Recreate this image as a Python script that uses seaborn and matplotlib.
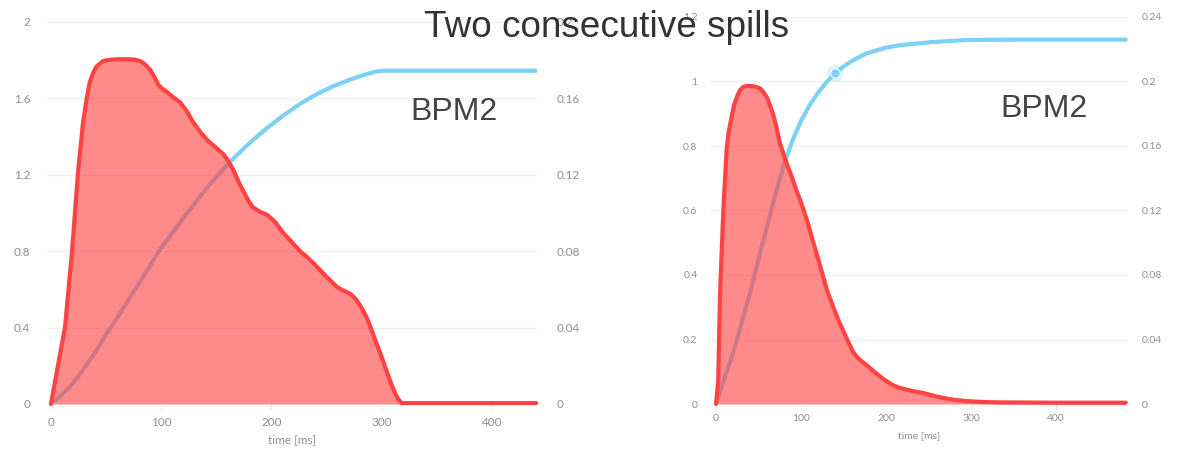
import matplotlib
matplotlib.use("Agg")
import matplotlib.pyplot as plt
import seaborn as sns
import pandas as pd
from matplotlib.ticker import FixedLocator, FuncFormatter

# ---- first spill: intensity (left axis) and integrated charge (right axis)
spill1_t = [0, 6, 12.7, 19, 24.5, 29, 32.7, 35, 38, 41, 44, 47, 51, 55, 60, 70,
            76, 81, 85, 90, 94, 97, 100, 105, 110, 117, 123, 129, 136, 142, 149,
            156, 160, 165, 170, 174, 179, 183, 190, 196, 203, 210, 218, 226, 234,
            241, 250, 259, 264, 268, 272, 277, 282, 286, 290, 295, 300, 304, 308,
            312, 315, 318, 330, 440]
spill1_rate = [0, 0.19, 0.40, 0.79, 1.21, 1.47, 1.61, 1.68, 1.73, 1.765, 1.78,
               1.795, 1.80, 1.803, 1.805, 1.805, 1.803, 1.795, 1.78, 1.75, 1.71,
               1.675, 1.655, 1.635, 1.61, 1.58, 1.535, 1.475, 1.42, 1.38, 1.345,
               1.31, 1.28, 1.23, 1.165, 1.12, 1.065, 1.03, 1.005, 0.99, 0.955,
               0.90, 0.85, 0.80, 0.76, 0.72, 0.665, 0.615, 0.597, 0.587, 0.575,
               0.545, 0.50, 0.457, 0.40, 0.32, 0.245, 0.178, 0.115, 0.058, 0.025,
               0.005, 0.005, 0.005]
spill1_sum_t = [0, 10, 20, 29, 40, 50, 60, 72, 85, 99, 110, 120, 135, 150, 165,
                180, 196, 211, 226, 241, 256, 274, 286, 296, 302, 440]
spill1_sum = [0, 0.005, 0.0108, 0.0178, 0.027, 0.0365, 0.045, 0.056, 0.068,
              0.081, 0.0895, 0.0973, 0.1085, 0.119, 0.1282, 0.1366, 0.1445,
              0.1512, 0.1572, 0.1622, 0.1664, 0.1704, 0.1727, 0.1742, 0.1745,
              0.1745]

# ---- second spill
spill2_t = [0, 2.6, 4.7, 8.6, 12.5, 15, 18.4, 21, 24.3, 28, 32, 36, 40, 44, 48,
            52, 55, 57, 60, 63, 67, 71, 75, 83, 89, 95, 100, 107, 113, 119, 125,
            131, 138, 144, 150, 156, 161, 166, 171, 177, 187, 197, 207, 216, 230,
            244, 255, 267, 280, 295, 315, 334, 400, 482]
spill2_rate = [0, 0.07, 0.34, 0.60, 0.79, 0.845, 0.89, 0.925, 0.95, 0.972, 0.983,
               0.986, 0.986, 0.985, 0.983, 0.978, 0.97, 0.962, 0.95, 0.93, 0.90,
               0.86, 0.81, 0.747, 0.705, 0.66, 0.625, 0.57, 0.515, 0.46, 0.405,
               0.35, 0.30, 0.26, 0.225, 0.19, 0.163, 0.145, 0.133, 0.121, 0.098,
               0.077, 0.06, 0.05, 0.041, 0.034, 0.026, 0.019, 0.013, 0.009, 0.006,
               0.005, 0.004, 0.004]
spill2_sum_t = [0, 10, 20, 30, 40, 50, 60, 70, 80, 90, 100, 110, 120, 130, 140,
                150, 160, 177, 200, 216, 255, 294, 350, 482]
spill2_sum = [0, 0.016, 0.0316, 0.050, 0.0688, 0.090, 0.110, 0.130, 0.1485,
              0.1635, 0.1755, 0.1852, 0.193, 0.1995, 0.205, 0.2093, 0.2128,
              0.2175, 0.221, 0.2225, 0.2245, 0.2257, 0.226, 0.226]

# highlighted point on the second integral curve
spill2_mark_t = [140]
spill2_mark = [0.205]

left_ticks_1 = [0, 0.4, 0.8, 1.2, 1.6, 2]
right_ticks_1 = [0, 0.04, 0.08, 0.12, 0.16, 0.2]
left_ticks_2 = [0, 0.2, 0.4, 0.6, 0.8, 1, 1.2]
right_ticks_2 = [0, 0.04, 0.08, 0.12, 0.16, 0.2, 0.24]
x_ticks = [0, 100, 200, 300, 400]

RED = "#ff4242"
BLUE = "#7dd0f6"
TICK_COLOR = "#8f8f8f"
GRID_COLOR = "#f0f0f0"

sns.set_theme(style="white")
plt.rcParams["font.family"] = ["Lato", "DejaVu Sans"]

W, H = 1182, 449
fig = plt.figure(figsize=(W / 100, H / 100), dpi=100)
fig.patch.set_facecolor("white")


def panel(rect, xlim, ylim, yticks, y2ticks, t, rate, st, s, tick_size, pad_l, pad_r, xpad, lpad):
    ax2 = fig.add_axes(rect)
    ax = fig.add_axes(rect, sharex=ax2)
    ax.set_zorder(ax2.get_zorder() + 1)
    ax.patch.set_visible(False)

    # integrated curve on the secondary (right) axis, underneath the fill
    sns.lineplot(data=pd.DataFrame({"t": st, "v": s}), x="t", y="v", ax=ax2,
                 color=BLUE, linewidth=3.0, estimator=None, sort=False)
    for ln in ax2.lines:
        ln.set_solid_capstyle("round")
        ln.set_solid_joinstyle("round")

    # intensity curve with filled area
    ax.fill_between(t, rate, 0, color=RED, alpha=0.62, linewidth=0, zorder=2)
    sns.lineplot(data=pd.DataFrame({"t": t, "v": rate}), x="t", y="v", ax=ax,
                 color=RED, linewidth=3.0, estimator=None, sort=False)
    for ln in ax.lines:
        ln.set_clip_on(False)
        ln.set_zorder(3)
        ln.set_solid_capstyle("round")
        ln.set_solid_joinstyle("round")

    ax.set_xlim(*xlim)
    ax.set_ylim(*ylim)
    ax2.set_ylim(0, ylim[1] * (y2ticks[-1] / yticks[-1]))

    fmt = FuncFormatter(lambda v, p: f"{v:g}")
    ax.yaxis.set_major_locator(FixedLocator(yticks))
    ax.yaxis.set_major_formatter(fmt)
    ax2.yaxis.set_major_locator(FixedLocator(y2ticks))
    ax2.yaxis.set_major_formatter(fmt)
    ax2.yaxis.tick_right()
    ax.xaxis.set_major_locator(FixedLocator(x_ticks))
    ax.xaxis.set_major_formatter(fmt)

    ax2.grid(axis="y", color=GRID_COLOR, linewidth=1.0)
    ax2.grid(axis="x", visible=False)
    ax.grid(False)
    ax2.set_axisbelow(True)

    ax.tick_params(axis="y", length=0, labelsize=tick_size, labelcolor=TICK_COLOR, pad=pad_l)
    ax2.tick_params(axis="y", length=0, labelsize=tick_size, labelcolor=TICK_COLOR, pad=pad_r,
                    right=True, labelright=True, left=False, labelleft=False)
    ax.tick_params(axis="x", length=4, width=1, color="#e4ebf2", direction="out",
                   labelsize=tick_size, labelcolor=TICK_COLOR, pad=xpad, bottom=True)
    ax2.tick_params(axis="x", bottom=False, labelbottom=False)

    for a in (ax, ax2):
        for sp in a.spines.values():
            sp.set_visible(False)
        a.set_ylabel("")
    ax2.set_xlabel("")
    ax.set_xlabel("time [ms]", fontsize=tick_size, color=TICK_COLOR, labelpad=lpad)
    return ax, ax2


# left panel: x 0 at px 51, 1.1025 px/ms; y 0 at px 404, 2 at px 22
ax_a, ax_a2 = panel([47 / W, 1 - 404 / H, (537 - 47) / W, (404 - 22) / H],
                    (-3.6, 440.8), (0, 2), left_ticks_1, right_ticks_1,
                    spill1_t, spill1_rate, spill1_sum_t, spill1_sum,
                    8.5, 12, 14, 5, 5)

# right panel: x 0 at px 716, 0.85 px/ms; y 0 at px 404, 1.2 at px 17
ax_b, ax_b2 = panel([710 / W, 1 - 404 / H, (1128 - 710) / W, (404 - 17) / H],
                    (-7.06, 484.7), (0, 1.2), left_ticks_2, right_ticks_2,
                    spill2_t, spill2_rate, spill2_sum_t, spill2_sum,
                    7.5, 9, 10, 3, 6)

# hover-style highlight on the second integral curve
ax_b2.scatter(spill2_mark_t, spill2_mark, s=150, color=BLUE, alpha=0.25,
              linewidths=0, zorder=5)
ax_b2.scatter(spill2_mark_t, spill2_mark, s=45, color=BLUE, edgecolors="white",
              linewidths=0.8, zorder=6)

fig.text(410 / W, 1 - 120 / H, "BPM2", fontsize=23, color="#444444",
         family=["Liberation Sans", "DejaVu Sans"], va="baseline", ha="left")
fig.text(1000 / W, 1 - 117 / H, "BPM2", fontsize=23, color="#444444",
         family=["Liberation Sans", "DejaVu Sans"], va="baseline", ha="left")

fig.text(607 / W, 1 - 37 / H, "Two consecutive spills", fontsize=26.6,
         color="#333333", family=["Liberation Sans", "DejaVu Sans"],
         va="baseline", ha="center", zorder=20)

fig.savefig("out.png", dpi=100, facecolor="white")
